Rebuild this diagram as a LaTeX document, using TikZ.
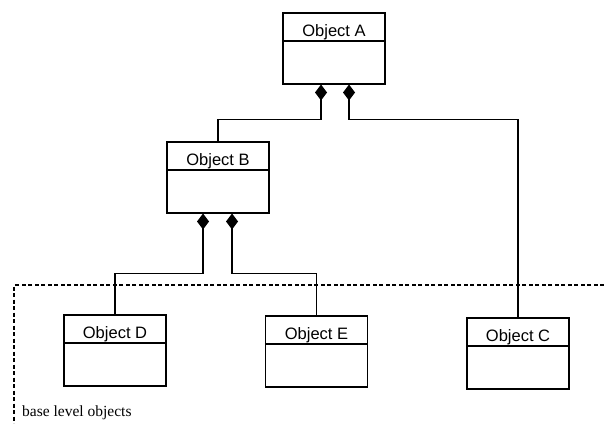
\documentclass[tikz,border=0pt]{standalone}
\usepackage{fontspec}
\setmainfont{Liberation Serif}
\newfontfamily\boxfont{Liberation Sans}
\usetikzlibrary{arrows.meta,calc}
\begin{document}
\begin{tikzpicture}[x=1pt,y=1pt,
  objbox/.style={draw,line width=1.5pt,minimum width=102pt,minimum height=71pt,inner sep=0pt,anchor=north},
  objtitle/.style={font=\boxfont\fontsize{16.5}{19}\selectfont,anchor=base,inner sep=0pt},
  conn/.style={line width=1.5pt,{Diamond[width=12pt,length=16pt]}-},
  dashline/.style={line width=1.4pt,dash pattern=on 4pt off 2.5pt}]
\useasboundingbox (0,0) rectangle (604,-423);
% boxes
\node[objbox] (A) at (334,-12) {};
\node[objbox] (B) at (218,-141) {};
\node[objbox] (D) at (115,-314) {};
\node[objbox] (E) at (316.5,-315) {};
\node[objbox] (C) at (518,-317) {};
% titles and dividers
\foreach \n/\t in {A/Object A,B/Object B,D/Object D,E/Object E,C/Object C}{
  \node[objtitle] (\n t) at ($(\n.north)+(0,-24)$) {\t};
  \draw[line width=1.5pt] ($(\n.north west)+(0,-29)$) -- ($(\n.north east)+(0,-29)$);
}
% connector start points
\coordinate (a1) at ($(A.south)+(-13,0)$);
\coordinate (a2) at ($(A.south)+(15,0)$);
\coordinate (b1) at ($(B.south)+(-15,0)$);
\coordinate (b2) at ($(B.south)+(14,0)$);
% connectors
\draw[conn] (a1) -- ++(0,-35) -| (B.north);
\draw[conn] (a2) -- ++(0,-35) -| (C.north);
\draw[conn] (b1) -- ++(0,-60) -| (D.north);
\draw[conn] (b2) -- ++(0,-60) -| (E.north);
% base level boundary
\coordinate (bl) at (14,-285);
\coordinate (br) at (604,-285);
\coordinate (bb) at (14,-423);
\draw[dashline] (br) -- (bl) -- (bb);
\node[anchor=base west,inner sep=0pt,font=\fontsize{15.5}{18}\selectfont] (lbl) at (22,-416) {base level objects};
\end{tikzpicture}
\end{document}
